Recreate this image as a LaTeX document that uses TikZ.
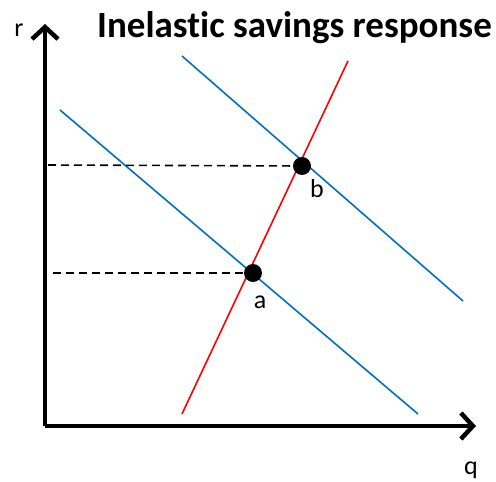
\documentclass[tikz,border=0pt]{standalone}
\usepackage{fontspec}
\setmainfont{Carlito}[Ligatures=NoCommon]
\usetikzlibrary{arrows.meta}
\definecolor{lblue}{RGB}{0,112,192}
\begin{document}
\begin{tikzpicture}[x=1pt,y=-1pt,
  axis/.style={line width=4.5pt,-{Straight Barb[length=12pt,width=26pt,line width=4.5pt]}},
  demand/.style={lblue,line width=1.6pt},
  supply/.style={red,line width=1.6pt},
  guide/.style={line width=1.6pt,dash pattern=on 8pt off 5pt},
  dot/.style={circle,fill=black,inner sep=0pt,minimum size=18pt},
  lbl/.style={font=\fontsize{26}{30}\selectfont,inner sep=0pt}]
\useasboundingbox (0,0) rectangle (496,482);
\coordinate (O) at (45,426);
\coordinate (ytip) at (45,24);
\coordinate (xtip) at (476,426);
\draw[axis] (O) -- (ytip);
\draw[axis] (O) -- (xtip);
\node[lbl,anchor=base] (r) at (19,36) {r};
\node[lbl,anchor=base] (q) at (471,474) {q};
\node[font=\bfseries\fontsize{37}{42}\selectfont,anchor=base,inner sep=0pt] (title) at (294.5,37) {Inelastic savings response};
\coordinate (s1) at (182,414);
\coordinate (s2) at (348,61);
\coordinate (d1a) at (60,110);
\coordinate (d1b) at (418,414);
\coordinate (d2a) at (182,56);
\coordinate (d2b) at (463,301);
\draw[supply] (s1) -- (s2);
\draw[demand] (d1a) -- (d1b);
\draw[demand] (d2a) -- (d2b);
\node[dot] (a) at (253,273) {};
\node[dot] (b) at (302,166) {};
\coordinate (ya) at (53,273);
\coordinate (yb) at (48,165);
\draw[guide] (ya) -- (a);
\draw[guide] (yb) -- (b);
\node[lbl,anchor=base] (la) at (260,308) {a};
\node[lbl,anchor=base] (lb) at (317,197) {b};
\end{tikzpicture}
\end{document}
